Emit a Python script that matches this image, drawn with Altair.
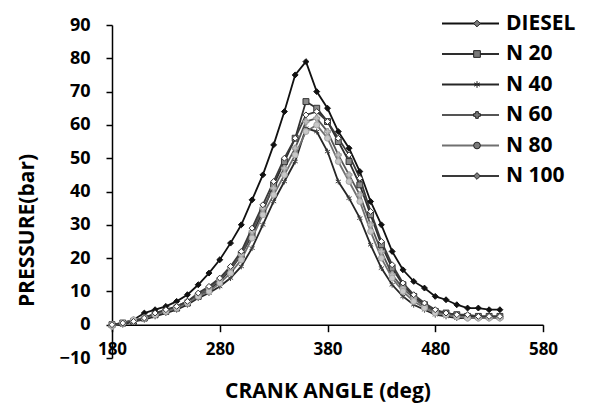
import altair as alt
import pandas as pd

# Crank angle grid (deg) shared by every series
angles = list(range(180, 541, 10))

series_names = ["DIESEL", "N 20", "N 40", "N 60", "N 80", "N 100"]

# Cylinder pressure (bar) per fuel blend
diesel = [0, 0.5, 1.5, 3.5, 4.5, 5.5, 7, 9, 12, 15.5, 19.5, 24.5, 30, 37.5, 45, 54, 64, 75, 79,
          70, 65, 58, 53, 46, 37, 30, 22, 16.5, 13, 11, 8.5, 7.5, 6, 5, 5, 4.5, 4.5]
n20 = [0, 0.5, 1, 2, 3, 4, 5, 6.5, 8.5, 10.5, 13, 16.5, 21, 27, 34, 42, 49, 56, 67,
       65, 61, 55, 49, 42, 33, 24, 17, 12, 8.5, 6, 4, 3.5, 3, 2.5, 2.5, 2.5, 2.5]
n40 = [0, 0, 1, 1.5, 2.5, 3.5, 4.5, 6, 8, 9.5, 11.5, 14, 17.5, 23, 30, 37, 43, 49, 59,
       58, 52, 43, 38, 32, 24, 17, 12, 8.5, 6, 4.5, 3, 2.5, 2, 2, 2, 2, 2]
n60 = [-0.5, 0.5, 1, 2, 3, 4, 5.5, 7, 9, 11, 13.5, 17, 21, 28, 35, 41, 47, 53, 61,
       62, 58, 51, 45, 39, 30, 22, 15, 11, 8, 5.5, 4, 3, 2.5, 2, 2, 2, 2]
n80 = [0, 0.5, 1.5, 2, 3, 4, 5, 6.5, 8.5, 10, 12.5, 15.5, 19.5, 26, 33, 39, 45, 51, 58,
       60, 56, 49, 43, 37, 28, 20, 14, 10, 7, 5, 3.5, 3, 2.5, 2, 2, 2, 2]
n100 = [0, 0.5, 1, 2, 3.5, 4.5, 5.5, 7, 9.5, 11.5, 14, 17.5, 22, 29, 36, 43, 50, 56, 63,
        64, 61, 56, 51, 44, 34, 25, 18, 12.5, 9, 6.5, 4.5, 3.5, 3, 3, 2.5, 2.5, 2.5]

x_ticks = [180, 280, 380, 480, 580]
y_ticks = list(range(-10, 91, 10))

rows = []
for name, vals in zip(series_names, [diesel, n20, n40, n60, n80, n100]):
    for a, v in zip(angles, vals):
        rows.append({"angle": a, "pressure": v, "series": name, "marker": name})
df = pd.DataFrame(rows)

FONT = "Open Sans"
star = "M0,-1L0,1M-0.87,-0.5L0.87,0.5M-0.87,0.5L0.87,-0.5"

line_colors = ["#111111", "#2e2e2e", "#262626", "#555555", "#707070", "#3a3a3a"]
marker_shapes = ["diamond", "square", star, "cross", "circle", "diamond"]
marker_fills = ["#111111", "#8a8a8a", "transparent", "#bdbdbd", "#c8c8c8", "#ffffff"]
marker_strokes = ["#111111", "#333333", "#444444", "#9a9a9a", "#a5a5a5", "#333333"]

x_enc = alt.X(
    "angle:Q",
    scale=alt.Scale(domain=[180, 580], nice=False, zero=False),
    axis=alt.Axis(
        values=x_ticks, grid=False, offset=-33.3,
        domainColor="#000", domainWidth=1.5, tickColor="#000", tickWidth=1.5, tickSize=7,
        labelFont=FONT, labelFontSize=17, labelFontWeight="bold", labelColor="#000",
        labelPadding=10, labelFlush=False,
        title="CRANK ANGLE (deg)", titleFont=FONT, titleFontSize=21, titleFontWeight="bold",
        titleColor="#000", titlePadding=23,
    ),
)
y_enc = alt.Y(
    "pressure:Q",
    scale=alt.Scale(domain=[-10, 90], nice=False, zero=False),
    axis=alt.Axis(
        values=y_ticks, grid=False,
        domainColor="#000", domainWidth=1.5, tickColor="#000", tickWidth=1.5, tickSize=6,
        labelFont=FONT, labelFontSize=18, labelFontWeight="bold", labelColor="#000",
        labelPadding=16, labelFlush=False,
        title="PRESSURE(bar)", titleFont=FONT, titleFontSize=21, titleFontWeight="bold",
        titleColor="#000", titleX=-75, titleY=205,
    ),
)

# Line legend: long stroke symbol plus the series names
lines = alt.Chart(df).mark_line(strokeWidth=1.8).encode(
    x=x_enc,
    y=y_enc,
    color=alt.Color(
        "series:N", sort=series_names,
        scale=alt.Scale(range=line_colors),
        legend=alt.Legend(
            title=None, orient="none", legendX=348, legendY=-12,
            symbolType="M-3,0H3", symbolSize=361, symbolStrokeWidth=2,
            labelFont=FONT, labelFontSize=21, labelFontWeight="bold", labelColor="#000",
            labelOffset=25, rowPadding=8.5, padding=0,
        ),
    ),
)

# Marker legend drawn over the middle of each legend stroke, no labels
marker_legend = alt.Legend(
    title=None, orient="none", legendX=354.5, legendY=-12,
    symbolSize=45, symbolStrokeWidth=1,
    symbolFillColor="#7a7a7a", symbolStrokeColor="#222222", symbolOpacity=1,
    labelExpr="''", labelFontSize=21,
    rowPadding=8.5, padding=0,
)

points = alt.Chart(df).mark_point(size=35, strokeWidth=1, opacity=1).encode(
    x=x_enc,
    y=y_enc,
    shape=alt.Shape("marker:N", sort=series_names,
                    scale=alt.Scale(range=marker_shapes), legend=marker_legend),
    fill=alt.Fill("marker:N", sort=series_names,
                  scale=alt.Scale(range=marker_fills), legend=None),
    stroke=alt.Stroke("marker:N", sort=series_names,
                      scale=alt.Scale(range=marker_strokes), legend=None),
)

chart = alt.layer(lines, points).properties(
    width=431,
    height=333,
    padding={"left": 112, "top": 25, "right": 49, "bottom": 45},
    autosize=alt.AutoSizeParams(type="none"),
    background="#ffffff",
).configure_view(strokeWidth=0)

chart.save("out.html", embed_options={"renderer": "svg", "actions": False})
